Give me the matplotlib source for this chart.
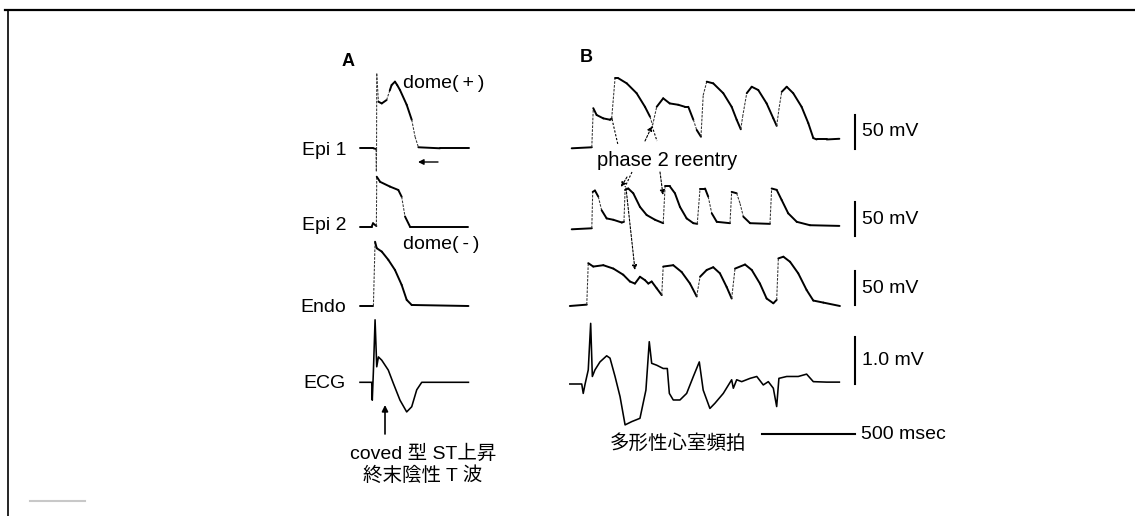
import matplotlib
matplotlib.use("Agg")
import matplotlib.pyplot as plt
import numpy as np

W, H = 1135, 516
PX_PER_MS = 0.186      # 500 msec bar is ~93 px
PX_PER_MV = 0.68       # action potential rows
PX_PER_ECG_MV = 47.0   # 1.0 mV bar

LATIN = ["Liberation Sans", "DejaVu Sans"]
MIXED = ["Liberation Sans", "Noto Sans CJK JP", "DejaVu Sans"]

# ---- panel A: t in ms, v in mV ----
epi1_a_t = [0, 72, 86, 88, 89, 90, 99, 117, 143, 160, 170, 188, 200, 215, 251, 278, 296, 314, 430, 588]
epi1_a_v = [-85, -85, -86, -119, -87, 25, -16.5, -19, -14, 0, 8, 13, 8, 0.7, -21, -43, -68, -83.5, -85, -85]

epi2_a_t = [0, 63, 70, 88, 90, 108, 161, 206, 224, 242, 269, 583]
epi2_a_v = [-85, -85, -80, -84, -11.5, -19, -26, -31, -41, -70, -85, -85]

endo_a_t = [0, 72, 81, 90, 117, 152, 188, 224, 251, 278, 583]
endo_a_v = [-85, -85, 9.5, 0, -5, -17, -32, -54, -76, -83.5, -85]

ecg_a_t = [0, 63, 66, 72, 81, 90, 99, 117, 152, 179, 215, 251, 278, 305, 332, 583]
ecg_a_v = [0, 0, -0.38, 0.23, 1.33, 0.33, 0.54, 0.47, 0.26, -0.02, -0.38, -0.63, -0.52, -0.16, 0, 0]

# ---- panel B ----
epi1_b_t = [0, 108, 116, 134, 170, 206, 215, 233, 251, 296, 349, 394, 421, 435, 457, 492,
            527, 573, 609, 627, 654, 672, 695, 707, 726, 761, 815, 860, 887, 909, 919, 941,
            968, 1003, 1048, 1084, 1102, 1116, 1129, 1156, 1191, 1236, 1272, 1299, 1317,
            1371, 1439]
epi1_b_v = [-85, -83.5, -26, -36, -41, -43, -41, 18, 18, 10.5, -4, -24, -38.5, -51, -24, -11.5,
            -19, -21, -24, -24, -43, -58, -68, -7, 13, 10.5, -4, -24, -43, -57, -38.5, -4,
            5.5, 0.7, -19, -41, -52, -24, -2, 5.5, -4, -24, -48, -70, -72,
            -72, -71]

epi2_b_t = [0, 108, 113, 125, 143, 161, 188, 224, 269, 281, 287, 304, 331, 367, 403, 448,
            492, 502, 528, 555, 582, 618, 654, 675, 690, 717, 734, 753, 780, 851, 860, 887,
            905, 923, 959, 1066, 1075, 1102, 1129, 1164, 1210, 1281, 1439]
epi2_b_v = [-85, -83.5, -30, -28, -37, -57, -69, -71, -75, -74, -27, -25, -32, -52, -64, -71,
            -76, -22, -22, -32, -52, -69, -76, -77, -25, -25, -37, -61.5, -74, -76, -30, -32,
            -47, -66.5, -76, -77, -25, -27, -42, -61.5, -74, -79, -80]

endo_b_t = [-10, 81, 89, 116, 170, 224, 277, 313, 340, 367, 394, 412, 430, 457, 484, 492,
            546, 591, 636, 672, 690, 726, 761, 797, 833, 860, 878, 932, 968, 1012, 1048,
            1084, 1102, 1111, 1138, 1174, 1218, 1263, 1299, 1353, 1442]
endo_b_v = [-85, -83, -22, -27, -25, -30, -39, -49, -52, -42, -47, -52, -49, -59, -69, -27,
            -25, -35, -52, -71, -42, -32, -28, -37, -57, -74, -30, -24, -32, -52, -74,
            -81, -76, -15, -12.5, -20, -37, -61.5, -77, -80, -85]

ecg_b_t = [-10, 54, 62, 72, 89, 102, 111, 125, 152, 188, 206, 233, 260, 287, 323, 367, 399,
           417, 430, 457, 492, 514, 525, 546, 582, 618, 654, 686, 707, 743, 770, 815, 860,
           869, 887, 914, 959, 995, 1030, 1057, 1084, 1102, 1114, 1156, 1218, 1263, 1299,
           1371, 1439]
ecg_b_v = [0, 0, -0.20, 0, 0.30, 1.29, 0.16, 0.30, 0.47, 0.60, 0.55, 0.16, -0.27, -0.87,
           -0.80, -0.73, -0.13, 0.90, 0.44, 0.40, 0.33, 0.33, -0.20, -0.34, -0.34, -0.20,
           0.16, 0.47, -0.13, -0.52, -0.41, -0.20, 0.09, -0.09, 0.09, 0.05, 0.12, 0.16,
           -0.02, 0.05, -0.09, -0.48, 0.12, 0.16, 0.16, 0.21, 0.05, 0.04, 0.04]

row_labels = ["Epi 1", "Epi 2", "Endo", "ECG"]
mv_bars = [50, 50, 50]
ecg_bar = 1.0
time_bar = 500


fig = plt.figure(figsize=(W / 100, H / 100), dpi=100)
bg = fig.add_axes([0, 0, 1, 1])
bg.set_xlim(0, W)
bg.set_ylim(H, 0)
bg.axis("off")


def trace_axes(x0, y0, v0, tlim, vlim, ky):
    """axes whose point (t=0, v=v0) falls on pixel (x0, y0)"""
    left = x0 + tlim[0] * PX_PER_MS
    right = x0 + tlim[1] * PX_PER_MS
    top = y0 - (vlim[1] - v0) * ky
    bottom = y0 - (vlim[0] - v0) * ky
    ax = fig.add_axes([left / W, 1 - bottom / H, (right - left) / W, (bottom - top) / H])
    ax.set_xlim(tlim)
    ax.set_ylim(vlim)
    ax.axis("off")
    return ax


def draw_ap(ax, t, v, ky):
    # fast upstrokes come out faint and broken on the original recording
    t = np.asarray(t, float)
    v = np.asarray(v, float)
    dx = np.diff(t) * PX_PER_MS
    dy = np.diff(v) * ky
    steep = (np.abs(dy) > 8) & (np.abs(dy) > 3 * np.abs(dx))
    for i in range(len(dx)):
        if steep[i]:
            ax.plot(t[i:i + 2], v[i:i + 2], color="#333333", lw=0.75,
                    ls=(0, (2.5, 1.2)), clip_on=False)
        else:
            ax.plot(t[i:i + 2], v[i:i + 2], color="black", lw=1.4,
                    solid_capstyle="round", clip_on=False)


def draw_ecg(ax, t, v):
    ax.plot(t, v, color="black", lw=1.15, solid_joinstyle="round", clip_on=False)


# frame of the scanned figure
bg.plot([5, W], [10, 10], color="black", lw=1.6)
bg.plot([8, 8], [10, H], color="black", lw=1.2)
bg.plot([30, 85], [501, 501], color="#c8c8c8", lw=1.5)

# ---------- panel A ----------
A_X0 = 360
ax = trace_axes(A_X0, 148.3, -85, (0, 600), (-125, 30), PX_PER_MV)
draw_ap(ax, epi1_a_t, epi1_a_v, PX_PER_MV)
ax = trace_axes(A_X0, 226.7, -85, (0, 600), (-125, 30), PX_PER_MV)
draw_ap(ax, epi2_a_t, epi2_a_v, PX_PER_MV)
ax = trace_axes(A_X0, 306, -85, (0, 600), (-125, 30), PX_PER_MV)
draw_ap(ax, endo_a_t, endo_a_v, PX_PER_MV)
ax = trace_axes(A_X0, 382.3, 0, (0, 600), (-1, 1.5), PX_PER_ECG_MV)
draw_ecg(ax, ecg_a_t, ecg_a_v)

for lab, yb in zip(row_labels, [155, 230, 312, 388]):
    bg.text(346, yb, lab, ha="right", va="baseline", fontsize=14, family=LATIN)

bg.text(342, 62, "A", ha="left", va="center", fontsize=13, fontweight="bold", family=LATIN)
bg.text(403, 88, "dome(\u2009+\u2009)", ha="left", va="baseline", fontsize=14, family=LATIN)
bg.text(403, 249, "dome(\u2009-\u2009)", ha="left", va="baseline", fontsize=14, family=LATIN)
bg.annotate("", xy=(418, 162), xytext=(438, 162),
            arrowprops=dict(arrowstyle="-|>", color="black", lw=1.0,
                            mutation_scale=8, shrinkA=0, shrinkB=0))
bg.annotate("", xy=(385, 405), xytext=(385, 434),
            arrowprops=dict(arrowstyle="-|>", color="black", lw=1.2,
                            mutation_scale=9, shrinkA=0, shrinkB=0))
bg.text(423, 454, "coved 型 ST上昇", ha="center", va="center", fontsize=14, family=MIXED)
bg.text(423, 476, "終末陰性 T 波", ha="center", va="center", fontsize=14, family=MIXED)

# ---------- panel B ----------
B_X0 = 571.7
T_BAR = 1523
ap_rows = [(epi1_b_t, epi1_b_v, 148.3, -86), (epi2_b_t, epi2_b_v, 229.3, -95),
           (endo_b_t, endo_b_v, 306, -84)]
for (t, v, yb, bar_lo), bar in zip(ap_rows, mv_bars):
    ax = trace_axes(B_X0, yb, -85, (-15, 1560), (-100, 25), PX_PER_MV)
    draw_ap(ax, t, v, PX_PER_MV)
    ax.plot([T_BAR, T_BAR], [bar_lo, bar_lo + bar], color="black", lw=1.5, clip_on=False)
    ax.annotate(f"{bar} mV", xy=(T_BAR, bar_lo + bar / 2), xytext=(5, 0),
                textcoords="offset points", ha="left", va="center",
                fontsize=14, family=LATIN, annotation_clip=False)

ax = trace_axes(B_X0, 384, 0, (-15, 1560), (-1.2, 1.4), PX_PER_ECG_MV)
draw_ecg(ax, ecg_b_t, ecg_b_v)
ax.plot([T_BAR, T_BAR], [0, ecg_bar], color="black", lw=1.5, clip_on=False)
ax.annotate(f"{ecg_bar:.1f} mV", xy=(T_BAR, ecg_bar / 2), xytext=(5, 0),
            textcoords="offset points", ha="left", va="center",
            fontsize=14, family=LATIN, annotation_clip=False)
ax.plot([T_BAR - time_bar, T_BAR], [-1.064, -1.064], color="black", lw=1.5, clip_on=False)
ax.annotate(f"{time_bar} msec", xy=(T_BAR, -1.064), xytext=(4, 0),
            textcoords="offset points", ha="left", va="center",
            fontsize=14, family=LATIN, annotation_clip=False)

bg.text(580, 57, "B", ha="left", va="center", fontsize=13, fontweight="bold", family=LATIN)
bg.text(597, 166, "phase 2 reentry", ha="left", va="baseline", fontsize=14.5, family=LATIN)
bg.text(678, 443, "多形性心室頻拍", ha="center", va="center", fontsize=14, family=MIXED)

# reentry arrows (dashed / dotted)
dash = dict(color="black", lw=0.8, ls=(0, (2, 1.5)))
bg.plot([612, 618], [119, 145], **dash)
bg.plot([652, 657], [126, 141], **dash)
bg.plot([632, 625], [172, 187], **dash)
for start, end in [((645, 141), (652, 126)), ((627, 177), (621, 187)),
                   ((660, 172), (663, 195)), ((626, 188), (635, 270))]:
    bg.annotate("", xy=end, xytext=start,
                arrowprops=dict(arrowstyle="-|>", color="black", lw=0.8, ls=(0, (2, 1.5)),
                                mutation_scale=7, shrinkA=0, shrinkB=0))

fig.savefig("out.png", dpi=100)
